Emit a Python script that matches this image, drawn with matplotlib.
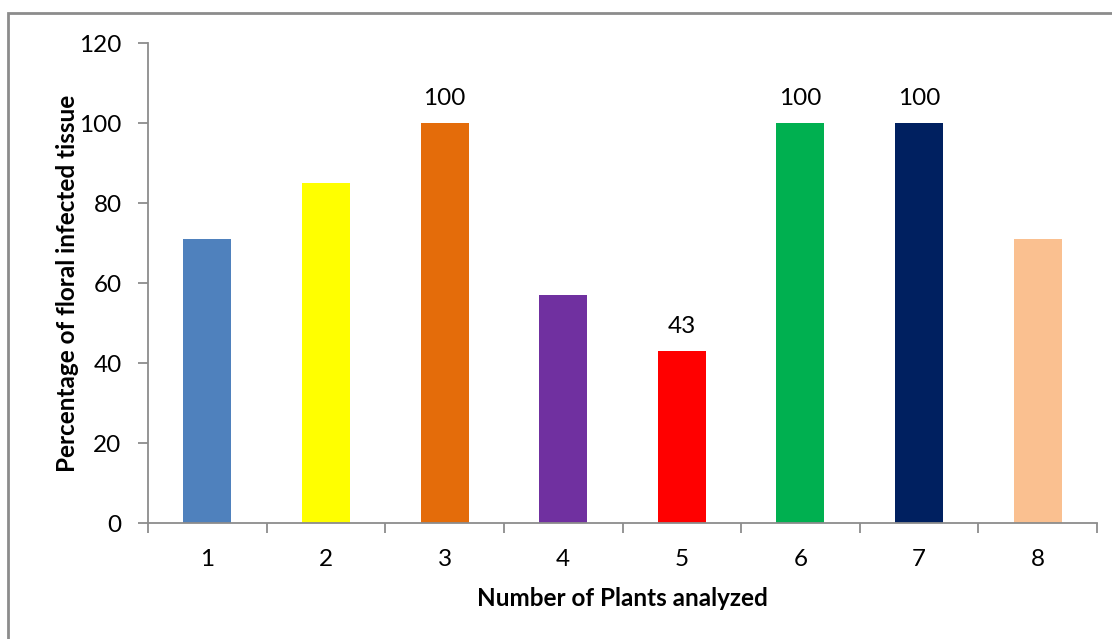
import numpy as np
import matplotlib.pyplot as plt
from matplotlib.patches import Rectangle

plants = ['1', '2', '3', '4', '5', '6', '7', '8']
percent = [71, 85, 100, 57, 43, 100, 100, 71]
colors = ['#4F81BD', '#FFFF00', '#E46C0A', '#7030A0', '#FF0000', '#00B050', '#002060', '#FAC090']
labelled = [2, 4, 5, 6]  # bars that carry a value label

plt.rcParams['font.family'] = ['Lato', 'DejaVu Sans']
FS = 17.5

fig = plt.figure(figsize=(11.12, 6.39), dpi=100)
ax = fig.add_axes([148 / 1112, 116 / 639, 949 / 1112, 480 / 639])

# chart-area border (runs off the right and bottom edge)
fig.patches.append(Rectangle((8 / 1112, -0.1), 1.2, 1 - 13 / 639 + 0.1,
                             transform=fig.transFigure, fill=False,
                             edgecolor='#8C8C8C', linewidth=2))

x = np.arange(len(plants))
ax.bar(x, percent, width=0.405, color=colors, zorder=2)
for i in labelled:
    ax.text(x[i], percent[i] + 3.5, str(percent[i]), ha='center', va='bottom', fontsize=FS)

ax.set_xlim(-0.5, len(plants) - 0.5)
ax.set_ylim(0, 120)
ax.set_yticks(np.arange(0, 121, 20))
ax.set_xticks(x)
ax.set_xticklabels(plants)
ax.set_xticks(np.arange(-0.5, len(plants), 1), minor=True)
ax.tick_params(axis='x', which='major', length=0, pad=19, labelsize=FS)
ax.tick_params(axis='x', which='minor', length=7, color='#8C8C8C', width=1.3, direction='out')
ax.tick_params(axis='y', length=7, color='#8C8C8C', width=1.3, direction='out', pad=12, labelsize=FS)

for s in ['top', 'right']:
    ax.spines[s].set_visible(False)
for s in ['left', 'bottom']:
    ax.spines[s].set_color('#8C8C8C')
    ax.spines[s].set_linewidth(1.3)

ax.set_xlabel('Number of Plants analyzed', fontsize=FS, fontweight='bold', labelpad=12)
ax.set_ylabel('Percentage of floral infected tissue', fontsize=FS, fontweight='bold', labelpad=0)

fig.savefig('out.png', dpi=100)
